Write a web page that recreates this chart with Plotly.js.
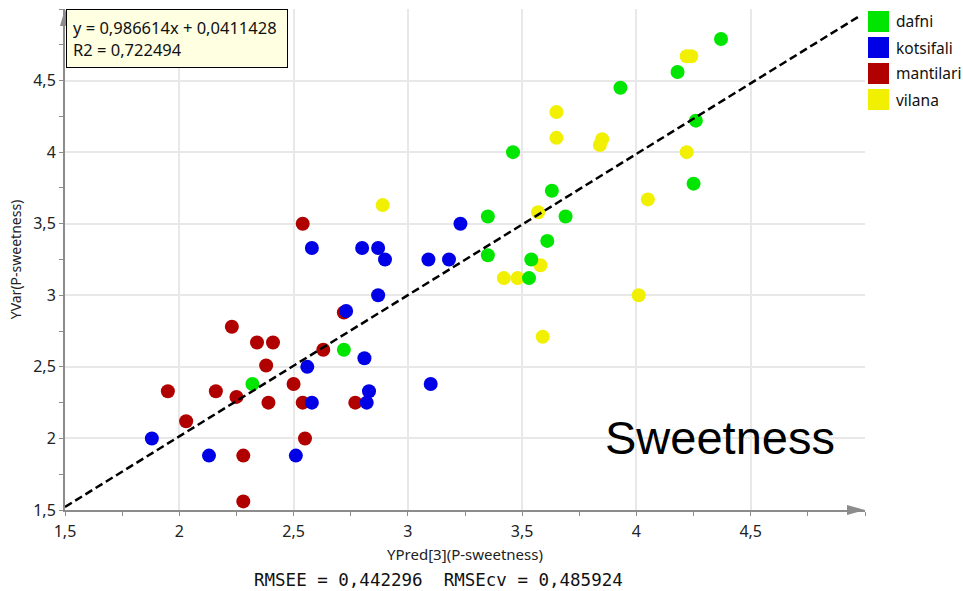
<!DOCTYPE html>
<html>
<head>
<meta charset="utf-8">
<script src="https://cdn.plot.ly/plotly-3.0.1.min.js"></script>
<style>html,body{margin:0;padding:0;background:#fff;}#chart{width:963px;height:591px;}</style>
</head>
<body>
<div id="chart"></div>
<script>
// ---- data ----
const seriesNames = ["dafni", "kotsifali", "mantilari", "vilana"];
const seriesColors = ["#00e600", "#0000e6", "#b00000", "#f0f000"];

const dafniX = [2.32, 2.72, 3.35, 3.35, 3.46, 3.53, 3.54, 3.61, 3.63, 3.69, 3.93, 4.18, 4.25, 4.26, 4.37];
const dafniY = [2.38, 2.62, 3.55, 3.28, 4.00, 3.12, 3.25, 3.38, 3.73, 3.55, 4.45, 4.56, 3.78, 4.22, 4.79];

const kotsifaliX = [1.88, 2.13, 2.51, 2.56, 2.58, 2.58, 2.73, 2.80, 2.81, 2.82, 2.83, 2.87, 2.87, 2.90, 3.09, 3.10, 3.18, 3.23];
const kotsifaliY = [2.00, 1.88, 1.88, 2.50, 2.25, 3.33, 2.89, 3.33, 2.56, 2.25, 2.33, 3.33, 3.00, 3.25, 3.25, 2.38, 3.25, 3.50];

const mantilariX = [1.95, 2.03, 2.16, 2.23, 2.25, 2.28, 2.28, 2.34, 2.38, 2.39, 2.41, 2.50, 2.54, 2.54, 2.55, 2.63, 2.72, 2.77];
const mantilariY = [2.33, 2.12, 2.33, 2.78, 2.29, 1.88, 1.56, 2.67, 2.51, 2.25, 2.67, 2.38, 3.50, 2.25, 2.00, 2.62, 2.88, 2.25];

const vilanaX = [2.89, 3.42, 3.48, 3.57, 3.58, 3.59, 3.65, 3.65, 3.84, 3.85, 4.01, 4.05, 4.22, 4.22, 4.24];
const vilanaY = [3.63, 3.12, 3.12, 3.58, 3.21, 2.71, 4.28, 4.10, 4.05, 4.09, 3.00, 3.67, 4.00, 4.67, 4.67];

const tickValues = [1.5, 2, 2.5, 3, 3.5, 4, 4.5];
const tickLabels = ["1,5", "2", "2,5", "3", "3,5", "4", "4,5"];

const fitSlope = 0.986614;
const fitIntercept = 0.0411428;
const fitR2 = 0.722494;
const rmsee = 0.442296;
const rmsecv = 0.485924;

const xTitle = "YPred[3](P-sweetness)";
const yTitle = "YVar(P-sweetness)";
const bigLabel = "Sweetness";

// ---- layout geometry ----
const W = 963, H = 591;
const ML = 65, MR = 98, MT = 9, MB = 81;
const PW = W - ML - MR, PH = H - MT - MB;
const px2paperX = p => (p - ML) / PW;
const px2paperY = p => (H - MB - p) / PH;
const axMin = 1.5, axMax = 5.0;

const fmt = v => String(v).replace(".", ",");

const allX = [dafniX, kotsifaliX, mantilariX, vilanaX];
const allY = [dafniY, kotsifaliY, mantilariY, vilanaY];

const traces = [];
// draw order: vilana, mantilari, kotsifali, dafni
[3, 2, 1, 0].forEach(i => {
  traces.push({
    type: "scatter", mode: "markers",
    x: allX[i], y: allY[i], name: seriesNames[i],
    marker: {color: seriesColors[i], size: 14, line: {width: 0}},
    showlegend: false, hoverinfo: "x+y+name"
  });
});
const fitEndX = 4.98;
traces.push({
  type: "scatter", mode: "lines",
  x: [axMin, fitEndX],
  y: [fitSlope * axMin + fitIntercept, fitSlope * fitEndX + fitIntercept],
  line: {color: "#000", width: 2.5, dash: "8px,4px"},
  showlegend: false, hoverinfo: "skip"
});

// axis arrowheads built from pixel outlines converted to paper coordinates
const pathFromPx = pts => pts.map((p, k) => (k ? "L" : "M") + px2paperX(p[0]).toFixed(5) + "," + px2paperY(p[1]).toFixed(5)).join(" ") + " Z";
const axisBottomPx = H - MB, axisLeftPx = ML, axisRightPx = W - MR, axisTopPx = MT;
const shapes = [
  {type: "path", xref: "paper", yref: "paper",
   path: pathFromPx([[axisRightPx, axisBottomPx], [axisRightPx - 18, axisBottomPx - 5], [axisRightPx - 18, axisBottomPx + 5]]),
   fillcolor: "#8c8c8c", line: {width: 0}},
  {type: "path", xref: "paper", yref: "paper",
   path: pathFromPx([[axisLeftPx, axisTopPx], [axisLeftPx - 5, axisTopPx + 17], [axisLeftPx + 5, axisTopPx + 17]]),
   fillcolor: "#8c8c8c", line: {width: 0}}
];

const annotations = [
  {xref: "paper", yref: "paper", x: px2paperX(66), y: px2paperY(9),
   xanchor: "left", yanchor: "top", align: "left", showarrow: false,
   text: "y = " + fmt(fitSlope) + "x + " + fmt(fitIntercept) + "<br>R2 = " + fmt(fitR2),
   font: {family: "Noto Sans, Open Sans, sans-serif", size: 16.5, color: "#111"},
   bgcolor: "#ffffe1", bordercolor: "#000", borderwidth: 1, borderpad: 6,
   width: 208, height: 45},
  {xref: "paper", yref: "paper", x: px2paperX(720), y: px2paperY(437),
   xanchor: "center", yanchor: "middle", showarrow: false, text: bigLabel,
   font: {family: "Liberation Sans, Arial, sans-serif", size: 47, color: "#000"}},
  {xref: "paper", yref: "paper", x: px2paperX(438), y: px2paperY(580),
   xanchor: "center", yanchor: "middle", showarrow: false,
   text: "RMSEE = " + fmt(rmsee) + "&nbsp;&nbsp;RMSEcv = " + fmt(rmsecv),
   font: {family: "DejaVu Sans Mono, monospace", size: 17.5, color: "#111"}}
];

seriesNames.forEach((n, i) => {
  const top = 11 + i * 26;
  shapes.push({type: "rect", xref: "paper", yref: "paper",
    x0: px2paperX(868), x1: px2paperX(889), y0: px2paperY(top + 21), y1: px2paperY(top),
    fillcolor: seriesColors[i], line: {width: 0}});
  annotations.push({xref: "paper", yref: "paper", x: px2paperX(894), y: px2paperY(top + 10.5),
    xanchor: "left", yanchor: "middle", showarrow: false, text: n,
    font: {family: "Noto Sans, Open Sans, sans-serif", size: 15.5, color: "#111"}});
});

const axisCommon = {
  range: [axMin, axMax], tickmode: "array", tickvals: tickValues, ticktext: tickLabels,
  showgrid: true, gridcolor: "#e8e8e8", gridwidth: 2, zeroline: false,
  showline: true, linecolor: "#8c8c8c", linewidth: 2,
  ticks: "outside", ticklen: 4, tickcolor: "#8c8c8c", tickwidth: 1,
  minor: {dtick: 0.25, tick0: axMin, ticks: "outside", ticklen: 4, tickcolor: "#8c8c8c", tickwidth: 1, showgrid: false},
  tickfont: {family: "Noto Sans, Open Sans, sans-serif", size: 16, color: "#222"},
  fixedrange: true
};

const layout = {
  width: W, height: H,
  margin: {l: ML, r: MR, t: MT, b: MB},
  paper_bgcolor: "#fff", plot_bgcolor: "#fff",
  separators: ", ",
  showlegend: false,
  xaxis: Object.assign({}, axisCommon, {
    ticklabelstandoff: 2,
    title: {text: xTitle, standoff: 8, font: {family: "Noto Sans, Open Sans, sans-serif", size: 15, color: "#222"}}
  }),
  yaxis: Object.assign({}, axisCommon, {
    title: {text: yTitle, standoff: 8, font: {family: "Noto Sans, Open Sans, sans-serif", size: 14, color: "#222"}}
  }),
  shapes: shapes,
  annotations: annotations
};

Plotly.newPlot("chart", traces, layout, {staticPlot: true, displayModeBar: false});
</script>
</body>
</html>
